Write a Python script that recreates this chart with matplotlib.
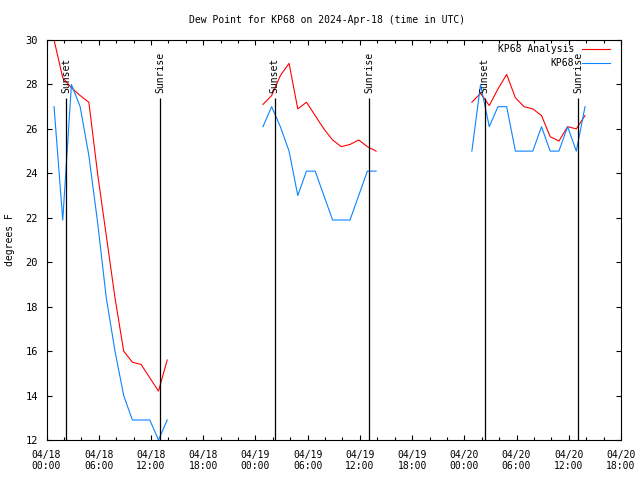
import matplotlib
matplotlib.use("Agg")
import matplotlib.pyplot as plt
import matplotlib.dates as mdates
import pandas as pd

# hourly readings, one block per day (time in UTC)
day_starts = ["2024-04-18 00:52", "2024-04-19 00:52", "2024-04-20 00:52"]

analysis_d1 = [30.0, 28.3, 27.85, 27.5, 27.2, 24.0, 21.2, 18.4, 16.0, 15.5, 15.4, 14.8, 14.2, 15.6]
analysis_d2 = [27.1, 27.5, 28.4, 28.95, 26.9, 27.2, 26.6, 26.0, 25.5, 25.2, 25.3, 25.5, 25.2, 25.0]
analysis_d3 = [27.2, 27.6, 27.05, 27.8, 28.45, 27.4, 27.0, 26.9, 26.6, 25.65, 25.45, 26.1, 26.0, 26.6]

obs_d1 = [27.0, 21.9, 28.0, 27.0, 24.8, 21.8, 18.4, 16.0, 14.0, 12.9, 12.9, 12.9, 12.0, 12.9]
obs_d2 = [26.1, 27.0, 26.1, 25.0, 23.0, 24.1, 24.1, 23.0, 21.9, 21.9, 21.9, 23.0, 24.1, 24.1]
obs_d3 = [25.0, 28.0, 26.1, 27.0, 27.0, 25.0, 25.0, 25.0, 26.1, 25.0, 25.0, 26.1, 25.0, 27.0]

sun_times = ["2024-04-18 02:14", "2024-04-18 13:02", "2024-04-19 02:13",
             "2024-04-19 13:04", "2024-04-20 02:21", "2024-04-20 13:05"]
sun_labels = ["Sunset", "Sunrise", "Sunset", "Sunrise", "Sunset", "Sunrise"]

plt.rcParams["font.family"] = ["DejaVu Sans Mono"]
plt.rcParams["font.size"] = 7

fig = plt.figure(figsize=(6.4, 4.8), dpi=100)
ax = fig.add_axes([46.5 / 640, 40 / 480, 574.5 / 640, 400 / 480])

red = "#ff0000"
blue = "#0a84ff"
analysis = [analysis_d1, analysis_d2, analysis_d3]
obs = [obs_d1, obs_d2, obs_d3]
for i, start in enumerate(day_starts):
    t = pd.date_range(start, periods=len(analysis[i]), freq="h")
    ax.plot(t, analysis[i], color=red, lw=0.8, label="KP68 Analysis" if i == 0 else None)
    t = pd.date_range(start, periods=len(obs[i]), freq="h")
    ax.plot(t, obs[i], color=blue, lw=0.8, label="KP68" if i == 0 else None)

sun = pd.to_datetime(sun_times)
ax.vlines(sun, 12, 27.4, color="black", lw=0.9)
for t, lab in zip(sun, sun_labels):
    ax.text(t, 27.62, lab, rotation=90, ha="center", va="bottom", fontsize=7)

ax.set_xlim(pd.Timestamp("2024-04-18 00:00"), pd.Timestamp("2024-04-20 18:00"))
ax.set_ylim(12, 30)
ax.set_yticks(range(12, 31, 2))
ax.xaxis.set_major_locator(mdates.HourLocator(byhour=range(0, 24, 6)))
ax.xaxis.set_minor_locator(mdates.HourLocator(byhour=range(0, 24, 2)))
ax.xaxis.set_major_formatter(mdates.DateFormatter("%m/%d\n%H:%M"))
ax.tick_params(which="both", direction="in", top=True, right=True, width=0.8, color="black")
ax.tick_params(which="major", length=3.4)
ax.tick_params(which="minor", length=2.2)
ax.tick_params(axis="y", pad=6.0, labelsize=7.5)
ax.tick_params(axis="x", pad=7.0)
for lbl in ax.get_xticklabels():
    lbl.set_linespacing(1.15)
for s in ax.spines.values():
    s.set_linewidth(0.8)

ax.legend(loc="upper right", bbox_to_anchor=(0.981, 0.989), frameon=False,
          markerfirst=False, handlelength=2.9, handletextpad=0.8,
          labelspacing=0.38, borderpad=0, borderaxespad=0, fontsize=7)

fig.text(327 / 640, 1 - 20 / 480, "Dew Point for KP68 on 2024-Apr-18 (time in UTC)",
         ha="center", va="center", fontsize=7)
fig.text(10 / 640, 0.5, "degrees F", rotation=90, ha="center", va="center", fontsize=7)

fig.savefig("out.png", dpi=100)
